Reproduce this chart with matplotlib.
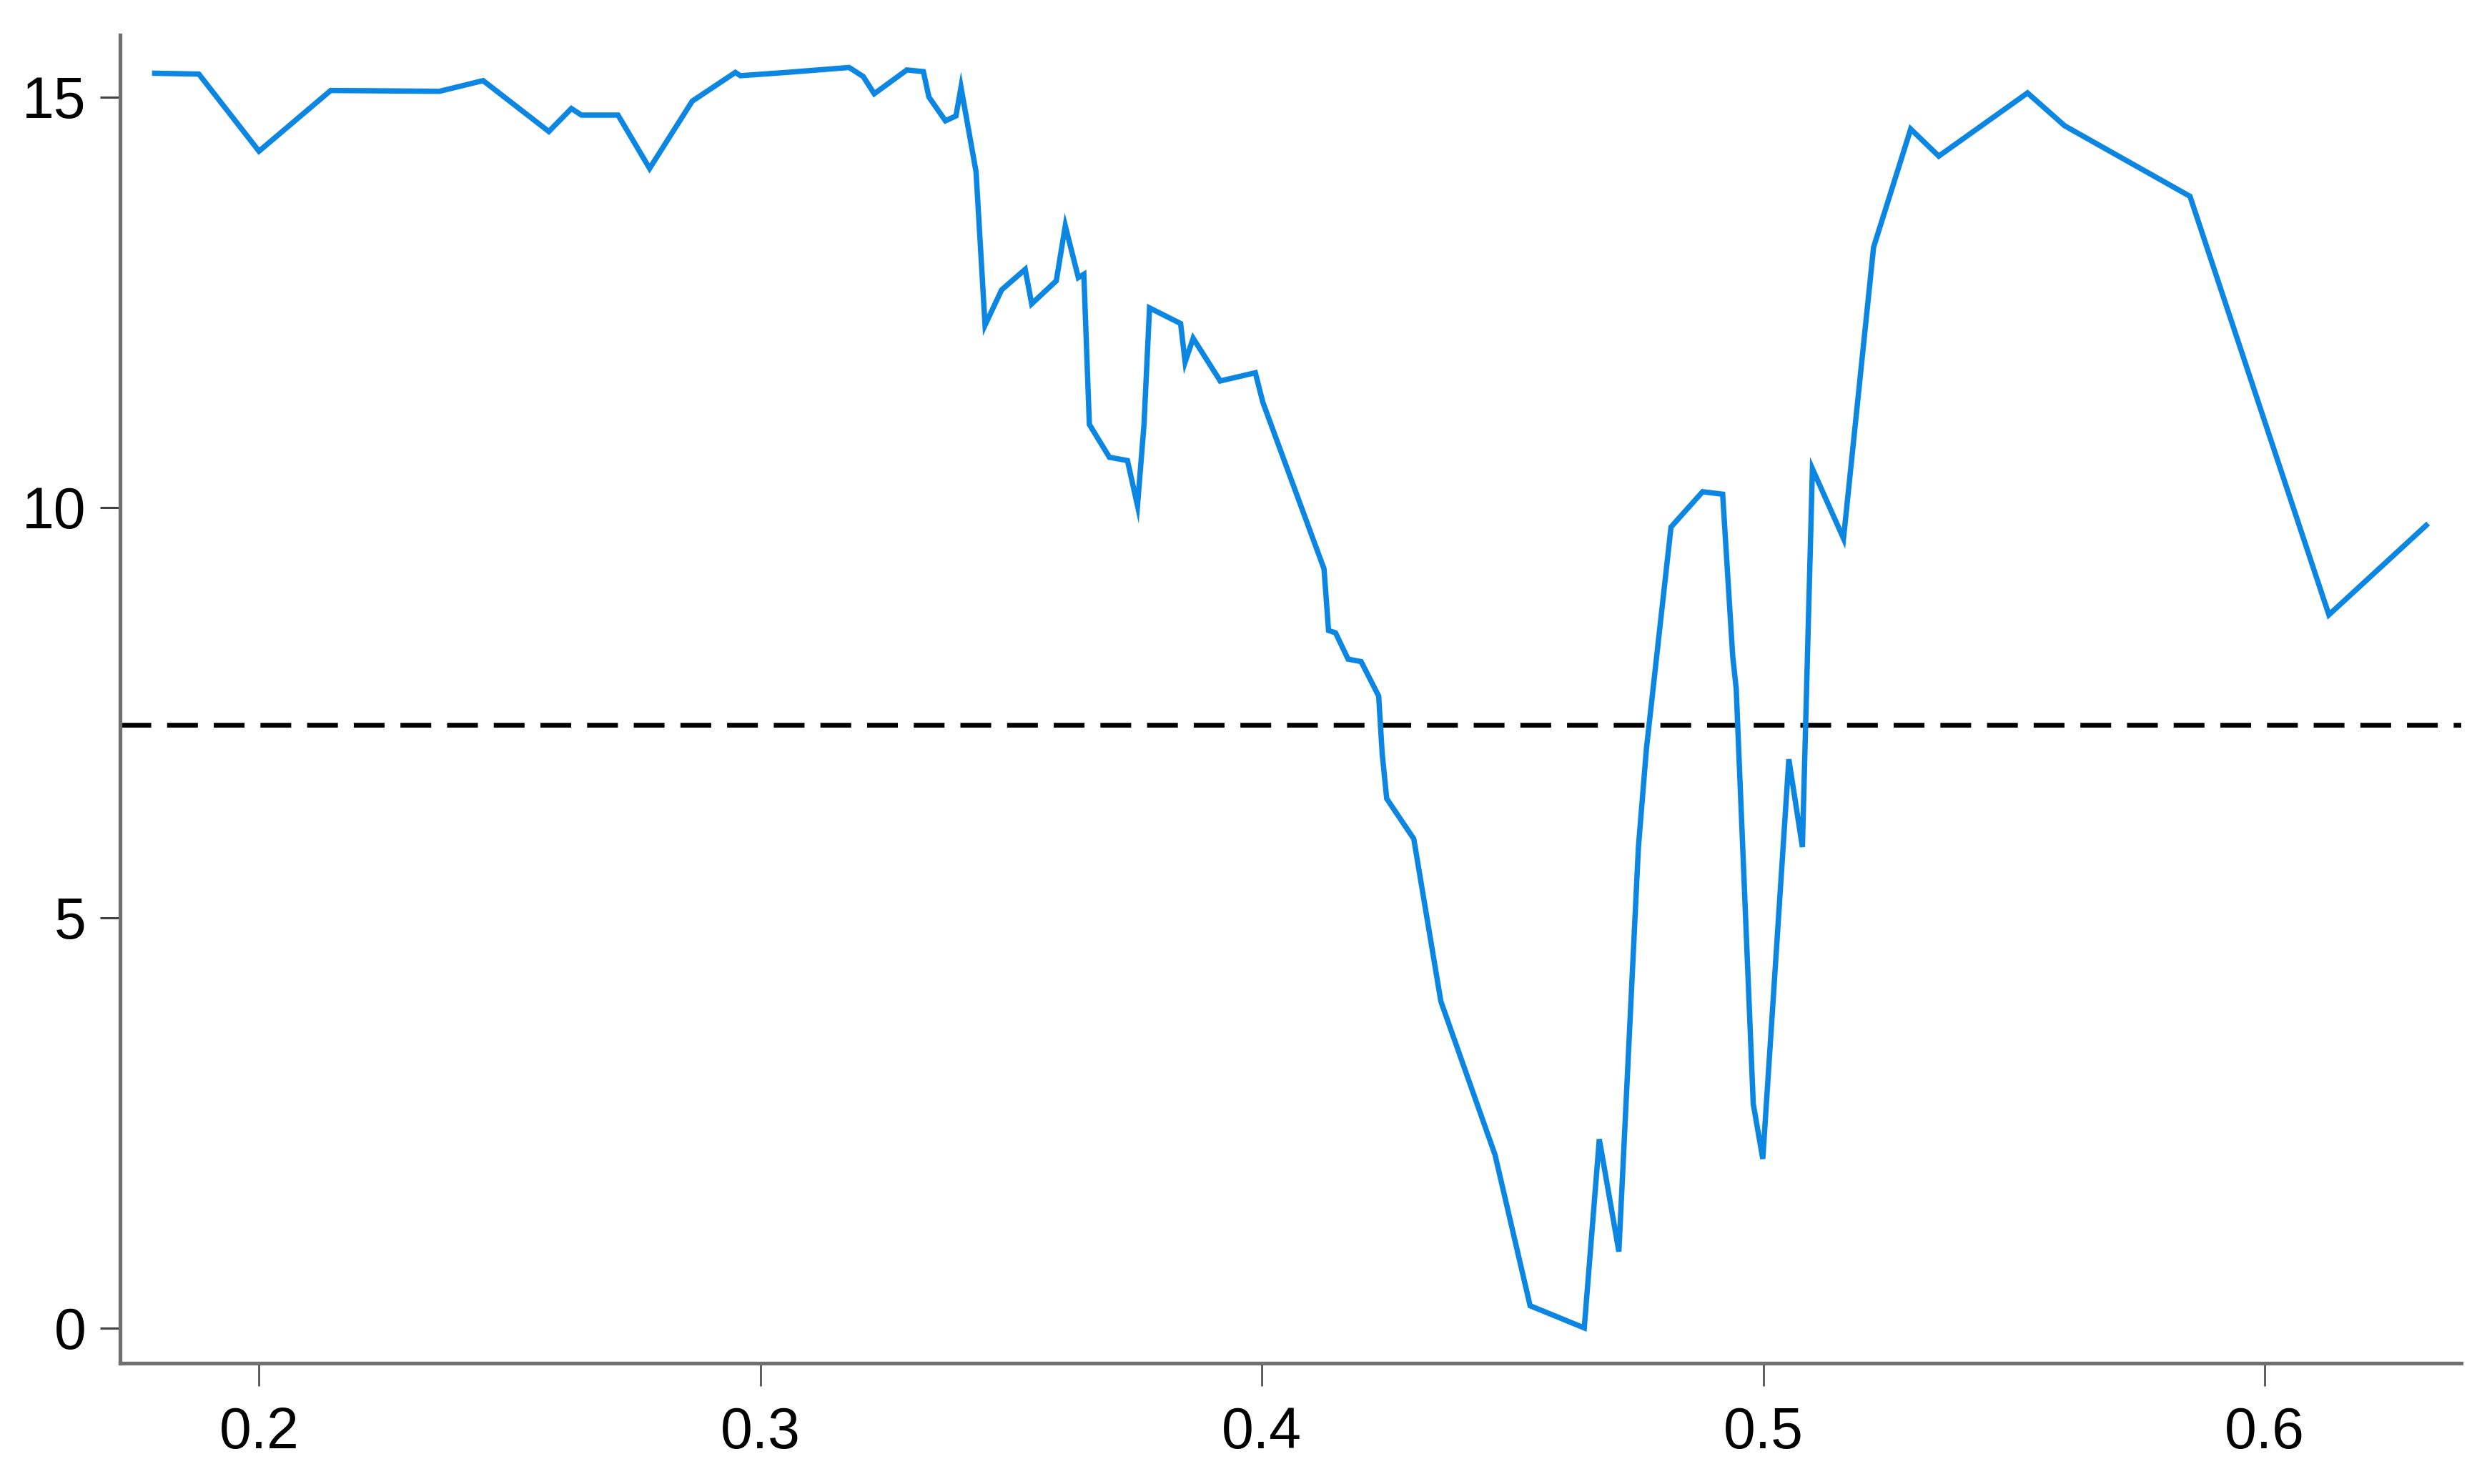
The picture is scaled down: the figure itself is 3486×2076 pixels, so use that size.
import matplotlib
matplotlib.use("Agg")
import matplotlib.pyplot as plt

plt.rcParams['font.family'] = ['Liberation Sans', 'DejaVu Sans']
plt.rcParams['lines.scale_dashes'] = False

x_vals = [0.1792, 0.1880, 0.2000, 0.2143, 0.2360, 0.2447, 0.2578, 0.2623, 0.2643, 0.2716,
          0.2779, 0.2864, 0.2950, 0.2960, 0.3052, 0.3177, 0.3205, 0.3227, 0.3292, 0.3325,
          0.3336, 0.3369, 0.3390, 0.3400, 0.3430, 0.3448, 0.3481, 0.3528, 0.3541, 0.3590,
          0.3608, 0.3634, 0.3645, 0.3656, 0.3696, 0.3732, 0.3752, 0.3765, 0.3776, 0.3838,
          0.3847, 0.3863, 0.3917, 0.3987, 0.4002, 0.4124, 0.4133, 0.4147, 0.4172, 0.4198,
          0.4233, 0.4240, 0.4249, 0.4303, 0.4357, 0.4465, 0.4535, 0.4643, 0.4673, 0.4712,
          0.4751, 0.4767, 0.4816, 0.4879, 0.4919, 0.4939, 0.4946, 0.4980, 0.4999, 0.5051,
          0.5078, 0.5098, 0.5160, 0.5220, 0.5294, 0.5350, 0.5527, 0.5601, 0.5851, 0.6128,
          0.6322]
y_vals = [15.29, 15.28, 14.34, 15.08, 15.07, 15.20, 14.58, 14.86, 14.78, 14.78,
          14.13, 14.95, 15.30, 15.26, 15.30, 15.36, 15.25, 15.04, 15.33, 15.31,
          15.00, 14.71, 14.77, 15.12, 14.09, 12.22, 12.65, 12.90, 12.48, 12.76,
          13.43, 12.80, 12.84, 11.01, 10.61, 10.57, 10.02, 11.01, 12.43, 12.24,
          11.77, 12.06, 11.54, 11.64, 11.28, 9.25, 8.50, 8.47, 8.15, 8.12,
          7.70, 7.00, 6.45, 5.96, 3.98, 2.11, 0.27, 0.00, 2.30, 0.93,
          5.86, 7.06, 9.76, 10.19, 10.16, 8.19, 7.79, 2.73, 2.06, 6.93,
          5.86, 10.47, 9.62, 13.17, 14.61, 14.28, 15.05, 14.65, 13.79, 8.69,
          9.78]
threshold = 7.35
x_ticks = [0.2, 0.3, 0.4, 0.5, 0.6]
x_tick_labels = ['0.2', '0.3', '0.4', '0.5', '0.6']
y_ticks = [0, 5, 10, 15]
y_tick_labels = ['0', '5', '10', '15']

W, H = 3487, 2076
fig = plt.figure(figsize=(W / 200, H / 200), dpi=200)
ax = fig.add_axes([168 / W, 1 - 1907 / H, (3443 - 168) / W, (1907 - 48.5) / H])

ax.plot(x_vals, y_vals, color='#0b86e2', lw=2.7, solid_joinstyle='miter', zorder=3)
ax.axhline(threshold, color='black', lw=2.4, dashes=(15.5, 8.0), zorder=2)

ax.set_xlim(0.1723, 0.6392)
ax.set_ylim(-0.43, 15.76)

for s in ['top', 'right']:
    ax.spines[s].set_visible(False)
for s in ['left', 'bottom']:
    ax.spines[s].set_color('#707070')
    ax.spines[s].set_linewidth(1.9)

ax.set_xticks(x_ticks)
ax.set_xticklabels(x_tick_labels)
ax.set_yticks(y_ticks)
ax.set_yticklabels(y_tick_labels)
ax.tick_params(axis='x', direction='out', length=11.5, width=0.9, color='#404040',
               labelsize=29, pad=10, labelcolor='black')
ax.tick_params(axis='y', direction='out', length=10, width=1.1, color='#404040',
               labelsize=29, pad=7, labelcolor='black')

fig.savefig('out.png', dpi=200, facecolor='white')
